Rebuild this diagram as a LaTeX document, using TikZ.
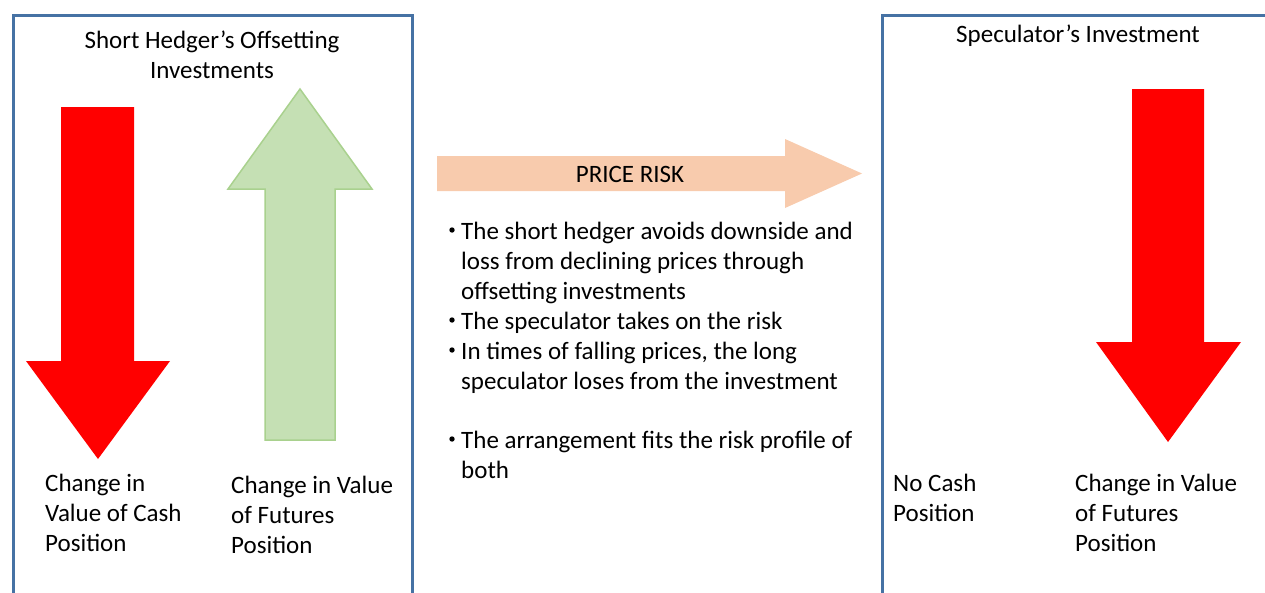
\documentclass[tikz,border=0pt]{standalone}
\usepackage{fontspec}
\setmainfont{Carlito}
\usetikzlibrary{positioning}
\definecolor{panelblue}{HTML}{4672A4}
\definecolor{lossred}{HTML}{FF0000}
\definecolor{gainfill}{HTML}{C5E0B4}
\definecolor{gainline}{HTML}{A9D18E}
\definecolor{riskfill}{HTML}{F8CBAD}

\begin{document}
\begin{tikzpicture}[x=1pt,y=-1pt]
      \tikzstyle{panel}=[draw=panelblue, line width=3pt]
      \tikzstyle{downarrow}=[fill=lossred]
      \tikzstyle{uparrow}=[fill=gainfill, draw=gainline, line width=1.5pt]
      \tikzstyle{txt}=[inner sep=0pt, font=\fontsize{25}{30}\selectfont]
      \tikzstyle{lbl}=[txt, anchor=base west, align=left]
      \tikzstyle{ttl}=[txt, anchor=base, align=center]
      \useasboundingbox (0,0) rectangle (1265,592);
      % the two panels
      \draw[panel] (13,610) -- (13,15) -- (412,15) -- (412,610);
      \draw[panel] (882,610) -- (882,15) -- (1280,15);
      % titles (base = last line)
      \node[ttl] (hedgetitle) at (212,78) {Short Hedger’s Offsetting\\Investments};
      \node[ttl] (spectitle) at (1078,42) {Speculator’s Investment};
      % big arrows
      \fill[downarrow] (61,107) -- (134,107) -- (134,361) -- (170,361) -- (98,459) -- (26,361) -- (61,361) -- cycle;
      \draw[uparrow] (265,440) -- (335,440) -- (335,189) -- (372,189) -- (300,89) -- (228,189) -- (265,189) -- cycle;
      \fill[downarrow] (1132,89) -- (1204,89) -- (1204,342) -- (1241,342) -- (1168,442) -- (1096,342) -- (1132,342) -- cycle;
      \fill[riskfill] (437,156) -- (785,156) -- (785,139) -- (862,173.5) -- (785,208) -- (785,191) -- (437,191) -- cycle;
      \node[ttl] (risk) at (630,182) {PRICE RISK};
      % labels under the arrows
      \node[lbl] (cash) at (45,551) {Change in\\Value of Cash\\Position};
      \node[lbl] (futures) at (231,553) {Change in Value\\of Futures\\Position};
      \node[lbl] (nocash) at (893,521) {No Cash\\Position};
      \node[lbl] (specfut) at (1075,551) {Change in Value\\of Futures\\Position};
      % bullet points
      \node[lbl] (pt1) at (461,299) {The short hedger avoids downside and\\loss from declining prices through\\offsetting investments};
      \node[lbl] (pt2) at (461,329) {The speculator takes on the risk};
      \node[lbl] (pt3) at (461,389) {In times of falling prices, the long\\speculator loses from the investment};
      \node[lbl] (pt4) at (461,478) {The arrangement fits the risk profile of\\both};
      \foreach \y in {239,329,359,448}
        \fill (452,\y-9) circle (2.7pt);
\end{tikzpicture}
\end{document}
